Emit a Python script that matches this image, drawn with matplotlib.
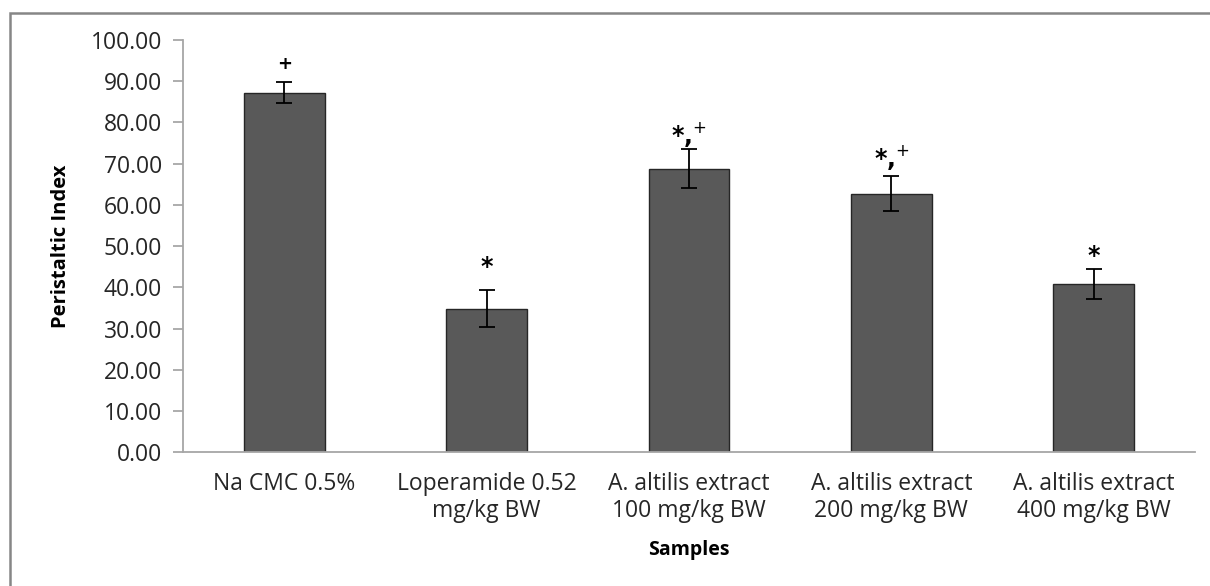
import matplotlib
matplotlib.use("Agg")
import matplotlib.pyplot as plt
from matplotlib.patches import Rectangle

categories = ["Na CMC 0.5%", "Loperamide 0.52\nmg/kg BW", "A. altilis extract\n100 mg/kg BW",
              "A. altilis extract\n200 mg/kg BW", "A. altilis extract\n400 mg/kg BW"]
values = [87.2, 34.8, 68.8, 62.7, 40.9]
errors = [2.5, 4.5, 4.8, 4.2, 3.6]
marks = ["+", "*", "*,$^{+}$", "*,$^{+}$", "*"]
mark_offsets = [13, 17, 10, 14, 9]  # points above error bar

plt.rcParams['font.family'] = ['Open Sans', 'DejaVu Sans']
plt.rcParams['mathtext.fontset'] = 'dejavusans'

fig = plt.figure(figsize=(12.10, 5.86), dpi=100)
ax = fig.add_axes([183/1210, 1-452.3/586, (1195-183)/1210, (452.3-40)/586])

x = list(range(len(categories)))
ax.bar(x, values, width=0.4, color="#595959", edgecolor="#262626", linewidth=1.0, zorder=2)
ax.errorbar(x, values, yerr=errors, fmt="none", ecolor="black", elinewidth=1.3,
            capsize=6, capthick=1.3, zorder=3)

for xi, v, e, m, off in zip(x, values, errors, marks, mark_offsets):
    if m == "+":
        ax.annotate(m, (xi, v + e), xytext=(0, off), textcoords="offset points",
                    ha="center", va="center", fontsize=13, fontweight="bold", color="black",
                    family=["DejaVu Sans"])
    else:
        ax.annotate(m, (xi, v + e), xytext=(0, off), textcoords="offset points",
                    ha="center", va="center", fontsize=17, fontweight="bold", color="black",
                    family=["DejaVu Sans"])

ax.set_xlim(-0.5, len(categories) - 0.5)
ax.set_ylim(0, 100)
ax.set_yticks(range(0, 101, 10))
ax.set_yticklabels([f"{t:.2f}" for t in range(0, 101, 10)], fontsize=16.5, color="#262626")
ax.set_xticks(x)
ax.set_xticklabels(categories, fontsize=16.5, color="#262626", linespacing=1.2)
ax.tick_params(axis="x", length=0, pad=14)
ax.tick_params(axis="y", length=7, color="#a0a0a0", width=1.2, pad=8)

for s in ["top", "right"]:
    ax.spines[s].set_visible(False)
for s in ["left", "bottom"]:
    ax.spines[s].set_color("#a6a6a6")
    ax.spines[s].set_linewidth(1.3)

ax.set_xlabel("Samples", fontsize=14, fontweight="bold", labelpad=12)
ax.set_ylabel("Peristaltic Index", fontsize=14.5, fontweight="bold", labelpad=14)

fig.patches.append(Rectangle((10/1210, -0.1), 1.2, 1 - 13/586 + 0.1, transform=fig.transFigure,
                             fill=False, edgecolor="#868686", linewidth=1.8, zorder=0))

fig.savefig("out.png", dpi=100)
